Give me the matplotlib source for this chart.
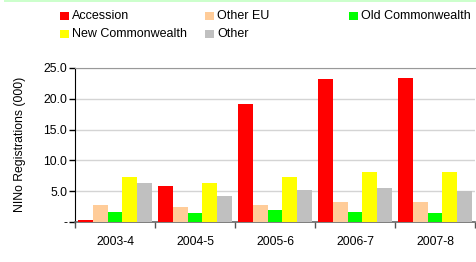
import matplotlib
matplotlib.use("Agg")
import matplotlib.pyplot as plt
from matplotlib.patches import Rectangle
import numpy as np

plt.rcParams["font.family"] = ["Liberation Sans", "DejaVu Sans"]

# ── data ──────────────────────────────────────────────────────────────
years = ["2003-4", "2004-5", "2005-6", "2006-7", "2007-8"]
series = ["Accession", "Other EU", "Old Commonwealth", "New Commonwealth", "Other"]
accession = [0.4, 5.8, 19.1, 23.2, 23.3]
other_eu = [2.7, 2.4, 2.8, 3.2, 3.2]
old_cw = [1.6, 1.4, 2.0, 1.7, 1.4]
new_cw = [7.3, 6.4, 7.3, 8.1, 8.1]
other = [6.4, 4.3, 5.2, 5.6, 5.0]
colors = ["#ff0000", "#ffcc99", "#00ff00", "#ffff00", "#c0c0c0"]

values = [accession, other_eu, old_cw, new_cw, other]

fig = plt.figure(figsize=(4.76, 2.62), dpi=100)
ax = fig.add_axes([75 / 476, 1 - 222 / 262, 400 / 476, 154 / 262])

x = np.arange(len(years))
bar_w = 0.183
for i, (vals, col) in enumerate(zip(values, colors)):
    off = (i - 2) * bar_w
    ax.bar(x + off, vals, bar_w, color=col, linewidth=0, zorder=3)

ax.set_xlim(-0.5, len(years) - 0.5)
ax.set_ylim(0, 25)
ax.set_yticks([0, 5, 10, 15, 20, 25])
ax.set_yticklabels(["-", "5.0", "10.0", "15.0", "20.0", "25.0"], fontsize=8.8)
ax.grid(axis="y", color="#d4d4d4", linewidth=1, zorder=0)

ax.set_xticks(np.arange(-0.5, len(years)), labels=[])
ax.set_xticks(x, labels=years, minor=True, fontsize=8.8)
ax.tick_params(axis="x", which="major", length=4, width=1, color="#555555", direction="out")
ax.tick_params(axis="x", which="minor", length=0, pad=10)
ax.tick_params(axis="y", length=4, width=1, color="black", direction="out", pad=1.5)

ax.spines["left"].set_color("black")
ax.spines["bottom"].set_color("#666666")
ax.spines["bottom"].set_linewidth(1.2)
ax.spines["top"].set_color("#999999")
ax.spines["right"].set_visible(False)

fig.text(20 / 476, 1 - 144 / 262, "NINo Registrations (000)", rotation=90,
         ha="center", va="center", fontsize=8.8)

# light green band at the top
fig.patches.append(Rectangle((4 / 476, 1 - 2 / 262), 1, 2 / 262,
                             transform=fig.transFigure, color="#ccffcc", linewidth=0))

# legend, laid out by hand like the original
pos = [(60, 16), (205, 16), (349, 16), (60, 34), (205, 34)]
for (px, py), name, col in zip(pos, series, colors):
    fig.patches.append(Rectangle((px / 476, 1 - (py + 4) / 262), 9 / 476, 8 / 262,
                                 transform=fig.transFigure, color=col, linewidth=0))
    fig.text((px + 12) / 476, 1 - py / 262, name, ha="left", va="center", fontsize=9)

fig.savefig("out.png", dpi=100)
